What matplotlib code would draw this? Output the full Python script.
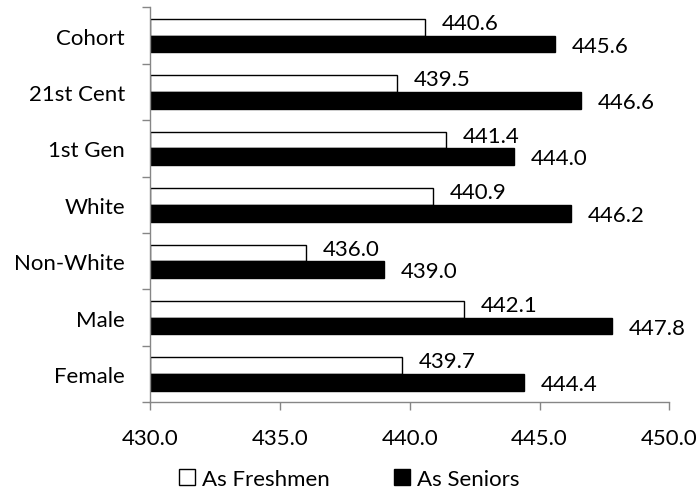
import matplotlib.pyplot as plt
import numpy as np
from matplotlib.ticker import FormatStrFormatter

categories = ["Cohort", "21st Cent", "1st Gen", "White", "Non-White", "Male", "Female"]
freshmen = [440.6, 439.5, 441.4, 440.9, 436.0, 442.1, 439.7]
seniors = [445.6, 446.6, 444.0, 446.2, 439.0, 447.8, 444.4]

plt.rcParams["font.family"] = ["Lato", "DejaVu Sans"]
FS = 16

fig = plt.figure(figsize=(6.99, 4.89), dpi=100)
ax = fig.add_axes([0.2153, 0.1753, 0.7422, 0.8074])

n = len(categories)
y = np.arange(n)[::-1]
h = 0.295
base = 430.0

ax.barh(y + h / 2, np.array(freshmen) - base, left=base, height=h,
        color="white", edgecolor="black", linewidth=1.0, label="As Freshmen")
ax.barh(y - h / 2, np.array(seniors) - base, left=base, height=h,
        color="black", edgecolor="black", linewidth=1.0, label="As Seniors")

for yi, f, s in zip(y, freshmen, seniors):
    ax.annotate(f"{f:.1f}", (f, yi + h / 2), xytext=(12, -1.2), textcoords="offset points",
                va="baseline", ha="left", fontsize=FS)
    ax.annotate(f"{s:.1f}", (s, yi - h / 2), xytext=(12, -5.5), textcoords="offset points",
                va="baseline", ha="left", fontsize=FS)

ax.set_xlim(430, 450)
ax.set_ylim(-0.5, n - 0.5)
ax.set_xticks(np.arange(430, 451, 5))
ax.xaxis.set_major_formatter(FormatStrFormatter("%.1f"))

# category boundaries as major ticks, labels on minor ticks
ax.set_yticks(np.arange(-0.5, n, 1.0))
ax.set_yticklabels([])
ax.set_yticks(y, minor=True)
ax.set_yticklabels(categories, minor=True)
ax.tick_params(axis="y", which="minor", length=0, pad=18.5, labelsize=FS)
ax.tick_params(axis="y", which="major", length=5.8, color="#868686", width=1)
ax.tick_params(axis="x", length=5.8, color="#868686", width=1, pad=13, labelsize=FS)

for side in ["top", "right"]:
    ax.spines[side].set_visible(False)
for side in ["left", "bottom"]:
    ax.spines[side].set_color("#868686")
    ax.spines[side].set_linewidth(1)

fig.legend(loc="center", ncol=2, frameon=False, fontsize=FS,
           bbox_to_anchor=(0.5, 0.019), handlelength=0.72, handleheight=0.72,
           handletextpad=0.3, columnspacing=2.9, borderpad=0)

fig.savefig("out.png", dpi=100)
